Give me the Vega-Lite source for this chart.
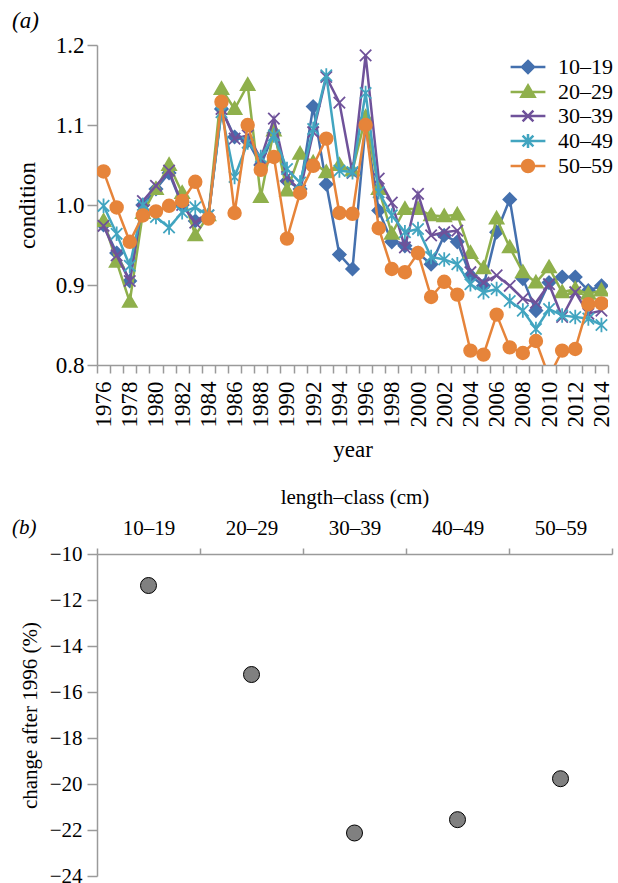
{
  "$schema": "https://vega.github.io/schema/vega-lite/v6.json",
  "background": "white",
  "padding": {"left": 12, "top": 10, "right": 0, "bottom": 0},
  "config": {
    "view": {"stroke": null},
    "font": "'Liberation Serif', 'DejaVu Serif', serif",
    "axis": {"labelFont": "'Liberation Serif', 'DejaVu Serif', serif", "titleFont": "'Liberation Serif', 'DejaVu Serif', serif", "labelColor": "#000000", "titleColor": "#000000", "titleFontWeight": "normal", "domainColor": "#9a9a9a", "tickColor": "#9a9a9a", "domainWidth": 1.5, "tickWidth": 1.5, "grid": false},
    "legend": {"labelFont": "'Liberation Serif', 'DejaVu Serif', serif"},
    "title": {"font": "'Liberation Serif', 'DejaVu Serif', serif", "fontWeight": "normal", "fontStyle": "italic", "anchor": "start", "frame": "bounds", "color": "#000000"}
  },
  "datasets": {
    "cond": [
      {"year":1976,"series":"10–19","value":0.975},{"year":1977,"series":"10–19","value":0.94},{"year":1978,"series":"10–19","value":0.905},{"year":1979,"series":"10–19","value":1.0},{"year":1980,"series":"10–19","value":1.02},{"year":1981,"series":"10–19","value":1.04},{"year":1982,"series":"10–19","value":1.0},{"year":1983,"series":"10–19","value":0.98},{"year":1984,"series":"10–19","value":0.985},{"year":1985,"series":"10–19","value":1.12},{"year":1986,"series":"10–19","value":1.085},{"year":1987,"series":"10–19","value":1.08},{"year":1988,"series":"10–19","value":1.05},{"year":1989,"series":"10–19","value":1.09},{"year":1990,"series":"10–19","value":1.03},{"year":1991,"series":"10–19","value":1.02},{"year":1992,"series":"10–19","value":1.123},{"year":1993,"series":"10–19","value":1.026},{"year":1994,"series":"10–19","value":0.938},{"year":1995,"series":"10–19","value":0.92},{"year":1996,"series":"10–19","value":1.1},{"year":1997,"series":"10–19","value":0.993},{"year":1998,"series":"10–19","value":0.954},{"year":1999,"series":"10–19","value":0.949},{"year":2000,"series":"10–19","value":0.94},{"year":2001,"series":"10–19","value":0.926},{"year":2002,"series":"10–19","value":0.962},{"year":2003,"series":"10–19","value":0.954},{"year":2004,"series":"10–19","value":0.912},{"year":2005,"series":"10–19","value":0.899},{"year":2006,"series":"10–19","value":0.966},{"year":2007,"series":"10–19","value":1.007},{"year":2008,"series":"10–19","value":0.908},{"year":2009,"series":"10–19","value":0.868},{"year":2010,"series":"10–19","value":0.903},{"year":2011,"series":"10–19","value":0.91},{"year":2012,"series":"10–19","value":0.91},{"year":2013,"series":"10–19","value":0.893},{"year":2014,"series":"10–19","value":0.899},
      {"year":1976,"series":"20–29","value":0.98},{"year":1977,"series":"20–29","value":0.929},{"year":1978,"series":"20–29","value":0.879},{"year":1979,"series":"20–29","value":0.99},{"year":1980,"series":"20–29","value":1.02},{"year":1981,"series":"20–29","value":1.05},{"year":1982,"series":"20–29","value":1.015},{"year":1983,"series":"20–29","value":0.962},{"year":1984,"series":"20–29","value":0.987},{"year":1985,"series":"20–29","value":1.145},{"year":1986,"series":"20–29","value":1.12},{"year":1987,"series":"20–29","value":1.15},{"year":1988,"series":"20–29","value":1.01},{"year":1989,"series":"20–29","value":1.093},{"year":1990,"series":"20–29","value":1.018},{"year":1991,"series":"20–29","value":1.064},{"year":1992,"series":"20–29","value":1.053},{"year":1993,"series":"20–29","value":1.041},{"year":1994,"series":"20–29","value":1.05},{"year":1995,"series":"20–29","value":1.043},{"year":1996,"series":"20–29","value":1.11},{"year":1997,"series":"20–29","value":1.02},{"year":1998,"series":"20–29","value":0.964},{"year":1999,"series":"20–29","value":0.995},{"year":2000,"series":"20–29","value":0.995},{"year":2001,"series":"20–29","value":0.987},{"year":2002,"series":"20–29","value":0.986},{"year":2003,"series":"20–29","value":0.988},{"year":2004,"series":"20–29","value":0.94},{"year":2005,"series":"20–29","value":0.921},{"year":2006,"series":"20–29","value":0.983},{"year":2007,"series":"20–29","value":0.947},{"year":2008,"series":"20–29","value":0.916},{"year":2009,"series":"20–29","value":0.903},{"year":2010,"series":"20–29","value":0.922},{"year":2011,"series":"20–29","value":0.891},{"year":2012,"series":"20–29","value":0.895},{"year":2013,"series":"20–29","value":0.889},{"year":2014,"series":"20–29","value":0.893},
      {"year":1976,"series":"30–39","value":0.974},{"year":1977,"series":"30–39","value":0.937},{"year":1978,"series":"30–39","value":0.905},{"year":1979,"series":"30–39","value":1.005},{"year":1980,"series":"30–39","value":1.024},{"year":1981,"series":"30–39","value":1.043},{"year":1982,"series":"30–39","value":1.0},{"year":1983,"series":"30–39","value":0.978},{"year":1984,"series":"30–39","value":0.987},{"year":1985,"series":"30–39","value":1.12},{"year":1986,"series":"30–39","value":1.083},{"year":1987,"series":"30–39","value":1.087},{"year":1988,"series":"30–39","value":1.058},{"year":1989,"series":"30–39","value":1.108},{"year":1990,"series":"30–39","value":1.035},{"year":1991,"series":"30–39","value":1.018},{"year":1992,"series":"30–39","value":1.091},{"year":1993,"series":"30–39","value":1.16},{"year":1994,"series":"30–39","value":1.128},{"year":1995,"series":"30–39","value":1.04},{"year":1996,"series":"30–39","value":1.187},{"year":1997,"series":"30–39","value":1.033},{"year":1998,"series":"30–39","value":1.003},{"year":1999,"series":"30–39","value":0.947},{"year":2000,"series":"30–39","value":1.014},{"year":2001,"series":"30–39","value":0.962},{"year":2002,"series":"30–39","value":0.966},{"year":2003,"series":"30–39","value":0.968},{"year":2004,"series":"30–39","value":0.916},{"year":2005,"series":"30–39","value":0.903},{"year":2006,"series":"30–39","value":0.912},{"year":2007,"series":"30–39","value":0.899},{"year":2008,"series":"30–39","value":0.883},{"year":2009,"series":"30–39","value":0.878},{"year":2010,"series":"30–39","value":0.901},{"year":2011,"series":"30–39","value":0.86},{"year":2012,"series":"30–39","value":0.891},{"year":2013,"series":"30–39","value":0.864},{"year":2014,"series":"30–39","value":0.868},
      {"year":1976,"series":"40–49","value":0.999},{"year":1977,"series":"40–49","value":0.964},{"year":1978,"series":"40–49","value":0.924},{"year":1979,"series":"40–49","value":1.0},{"year":1980,"series":"40–49","value":0.985},{"year":1981,"series":"40–49","value":0.972},{"year":1982,"series":"40–49","value":0.991},{"year":1983,"series":"40–49","value":0.997},{"year":1984,"series":"40–49","value":0.987},{"year":1985,"series":"40–49","value":1.116},{"year":1986,"series":"40–49","value":1.035},{"year":1987,"series":"40–49","value":1.078},{"year":1988,"series":"40–49","value":1.06},{"year":1989,"series":"40–49","value":1.087},{"year":1990,"series":"40–49","value":1.045},{"year":1991,"series":"40–49","value":1.028},{"year":1992,"series":"40–49","value":1.095},{"year":1993,"series":"40–49","value":1.162},{"year":1994,"series":"40–49","value":1.043},{"year":1995,"series":"40–49","value":1.041},{"year":1996,"series":"40–49","value":1.14},{"year":1997,"series":"40–49","value":1.016},{"year":1998,"series":"40–49","value":0.987},{"year":1999,"series":"40–49","value":0.966},{"year":2000,"series":"40–49","value":0.97},{"year":2001,"series":"40–49","value":0.935},{"year":2002,"series":"40–49","value":0.932},{"year":2003,"series":"40–49","value":0.926},{"year":2004,"series":"40–49","value":0.901},{"year":2005,"series":"40–49","value":0.891},{"year":2006,"series":"40–49","value":0.895},{"year":2007,"series":"40–49","value":0.88},{"year":2008,"series":"40–49","value":0.868},{"year":2009,"series":"40–49","value":0.845},{"year":2010,"series":"40–49","value":0.87},{"year":2011,"series":"40–49","value":0.862},{"year":2012,"series":"40–49","value":0.86},{"year":2013,"series":"40–49","value":0.858},{"year":2014,"series":"40–49","value":0.85},
      {"year":1976,"series":"50–59","value":1.042},{"year":1977,"series":"50–59","value":0.997},{"year":1978,"series":"50–59","value":0.954},{"year":1979,"series":"50–59","value":0.987},{"year":1980,"series":"50–59","value":0.992},{"year":1981,"series":"50–59","value":0.999},{"year":1982,"series":"50–59","value":1.005},{"year":1983,"series":"50–59","value":1.029},{"year":1984,"series":"50–59","value":0.983},{"year":1985,"series":"50–59","value":1.129},{"year":1986,"series":"50–59","value":0.99},{"year":1987,"series":"50–59","value":1.1},{"year":1988,"series":"50–59","value":1.044},{"year":1989,"series":"50–59","value":1.06},{"year":1990,"series":"50–59","value":0.958},{"year":1991,"series":"50–59","value":1.015},{"year":1992,"series":"50–59","value":1.049},{"year":1993,"series":"50–59","value":1.083},{"year":1994,"series":"50–59","value":0.99},{"year":1995,"series":"50–59","value":0.989},{"year":1996,"series":"50–59","value":1.1},{"year":1997,"series":"50–59","value":0.971},{"year":1998,"series":"50–59","value":0.92},{"year":1999,"series":"50–59","value":0.916},{"year":2000,"series":"50–59","value":0.94},{"year":2001,"series":"50–59","value":0.885},{"year":2002,"series":"50–59","value":0.904},{"year":2003,"series":"50–59","value":0.888},{"year":2004,"series":"50–59","value":0.818},{"year":2005,"series":"50–59","value":0.813},{"year":2006,"series":"50–59","value":0.863},{"year":2007,"series":"50–59","value":0.822},{"year":2008,"series":"50–59","value":0.815},{"year":2009,"series":"50–59","value":0.83},{"year":2010,"series":"50–59","value":0.785},{"year":2011,"series":"50–59","value":0.818},{"year":2012,"series":"50–59","value":0.82},{"year":2013,"series":"50–59","value":0.876},{"year":2014,"series":"50–59","value":0.877}
    ],
    "chg": [
      {"cls":"10–19","change":-11.37},
      {"cls":"20–29","change":-15.24},
      {"cls":"30–39","change":-22.13},
      {"cls":"40–49","change":-21.55},
      {"cls":"50–59","change":-19.77}
    ]
  },
  "vconcat": [
    {
      "title": {"text": "(a)", "dx": -4, "offset": 1, "fontSize": 23},
      "width": 511,
      "height": 320,
      "data": {"name": "cond"},
      "encoding": {
        "x": {"field": "year", "type": "ordinal", "scale": {"type": "band", "paddingInner": 0, "paddingOuter": 0},
          "axis": {"title": "year", "labelAngle": -90, "tickBand": "extent", "tickSize": 8, "labelPadding": 8, "titlePadding": 11, "labelFontSize": 23, "titleFontSize": 23, "labelExpr": "datum.value % 2 == 0 ? datum.label : ''"}},
        "y": {"field": "value", "type": "quantitative", "scale": {"domain": [0.8, 1.2], "zero": false, "nice": false},
          "axis": {"title": "condition", "values": [0.8, 0.9, 1.0, 1.1, 1.2], "format": ".1f", "tickSize": 10, "labelPadding": 3, "labelFontSize": 23, "titleFontSize": 23, "minExtent": 42, "maxExtent": 42, "titlePadding": 16}}
      },
      "layer": [
        {"transform": [{"filter": "datum.series === '10–19'"}], "mark": {"type": "line", "strokeWidth": 2.5, "color": "#4470AE", "clip": true}},
        {"transform": [{"filter": "datum.series === '10–19'"}], "mark": {"type": "point", "shape": "M0,-1L1,0L0,1L-1,0Z", "size": 160, "filled": true, "fill": "#4470AE", "stroke": "#4470AE", "strokeWidth": 1.8, "opacity": 1, "clip": true}},
        {"transform": [{"filter": "datum.series === '20–29'"}], "mark": {"type": "line", "strokeWidth": 2.5, "color": "#8FB04C", "clip": true}},
        {"transform": [{"filter": "datum.series === '20–29'"}], "mark": {"type": "point", "shape": "M0,-1.1L1.1,0.8L-1.1,0.8Z", "size": 160, "filled": true, "fill": "#8FB04C", "stroke": "#8FB04C", "strokeWidth": 1.8, "opacity": 1, "clip": true}},
        {"transform": [{"filter": "datum.series === '30–39'"}], "mark": {"type": "line", "strokeWidth": 2.5, "color": "#6F529A", "clip": true}},
        {"transform": [{"filter": "datum.series === '30–39'"}], "mark": {"type": "point", "shape": "M-0.9,-0.9L0.9,0.9M-0.9,0.9L0.9,-0.9", "size": 160, "filled": true, "fill": "#6F529A", "stroke": "#6F529A", "strokeWidth": 1.8, "opacity": 1, "clip": true}},
        {"transform": [{"filter": "datum.series === '40–49'"}], "mark": {"type": "line", "strokeWidth": 2.5, "color": "#42A5C0", "clip": true}},
        {"transform": [{"filter": "datum.series === '40–49'"}], "mark": {"type": "point", "shape": "M-0.9,-0.9L0.9,0.9M-0.9,0.9L0.9,-0.9M0,-1.15L0,1.15", "size": 160, "filled": true, "fill": "#42A5C0", "stroke": "#42A5C0", "strokeWidth": 1.8, "opacity": 1, "clip": true}},
        {"transform": [{"filter": "datum.series === '50–59'"}], "mark": {"type": "line", "strokeWidth": 2.5, "color": "#E6843A", "clip": true}},
        {"transform": [{"filter": "datum.series === '50–59'"}], "mark": {"type": "point", "shape": "M1,0A1,1,0,1,1,-1,0A1,1,0,1,1,1,0Z", "size": 160, "filled": true, "fill": "#E6843A", "stroke": "#E6843A", "strokeWidth": 1.8, "opacity": 1, "clip": true}},
        {
          "mark": {"type": "point", "filled": true, "size": 144, "strokeWidth": 2.5, "opacity": 0, "clip": true},
          "encoding": {
            "fill": {"field": "series", "type": "nominal", "scale": {"domain": ["10–19","20–29","30–39","40–49","50–59"], "range": ["#4470AE","#8FB04C","#6F529A","#42A5C0","#E6843A"]},
              "legend": {"title": null, "orient": "none", "legendX": 420, "legendY": 11, "symbolSize": 144, "symbolStrokeWidth": 2.5, "symbolOpacity": 1, "labelOffset": 19, "labelFontSize": 22, "labelColor": "#000000", "rowPadding": 2, "padding": 0}},
            "stroke": {"field": "series", "type": "nominal", "scale": {"domain": ["10–19","20–29","30–39","40–49","50–59"], "range": ["#4470AE","#8FB04C","#6F529A","#42A5C0","#E6843A"]},
              "legend": {"title": null, "orient": "none", "legendX": 420, "legendY": 11, "symbolSize": 144, "symbolStrokeWidth": 2.5, "symbolOpacity": 1, "labelOffset": 19, "labelFontSize": 22, "labelColor": "#000000", "rowPadding": 2, "padding": 0}},
            "shape": {"field": "series", "type": "nominal",
              "scale": {"domain": ["10–19","20–29","30–39","40–49","50–59"], "range": ["M-2.9,0L2.9,0M0,-1L1,0L0,1L-1,0Z","M-2.9,0L2.9,0M0,-1.1L1.1,0.8L-1.1,0.8Z","M-2.9,0L2.9,0M-0.9,-0.9L0.9,0.9M-0.9,0.9L0.9,-0.9","M-2.9,0L2.9,0M-0.9,-0.9L0.9,0.9M-0.9,0.9L0.9,-0.9M0,-1.15L0,1.15","M-2.9,0L2.9,0M1,0A1,1,0,1,1,-1,0A1,1,0,1,1,1,0Z"]},
              "legend": {"title": null, "orient": "none", "legendX": 420, "legendY": 11, "symbolSize": 144, "symbolStrokeWidth": 2.5, "symbolOpacity": 1, "labelOffset": 19, "labelFontSize": 22, "labelColor": "#000000", "rowPadding": 2, "padding": 0}
            }
          }
        }
      ]
    },
    {
      "title": {"text": "(b)", "dx": -7, "dy": 56, "fontSize": 21},
      "width": 515,
      "height": 322,
      "data": {"name": "chg"},
      "mark": {"type": "point", "shape": "circle", "filled": true, "size": 256, "fill": "#808080", "stroke": "#000000", "strokeWidth": 1, "opacity": 1},
      "encoding": {
        "x": {"field": "cls", "type": "nominal", "sort": null, "scale": {"type": "band", "paddingInner": 0, "paddingOuter": 0},
          "axis": {"orient": "top", "title": "length–class (cm)", "labelAngle": 0, "tickBand": "extent", "tickSize": 6, "labelPadding": 10, "titlePadding": 10, "labelFontSize": 21, "titleFontSize": 21}},
        "y": {"field": "change", "type": "quantitative", "scale": {"domain": [-24, -10], "zero": false, "nice": false},
          "axis": {"title": "change after 1996 (%)", "values": [-24, -22, -20, -18, -16, -14, -12, -10], "tickSize": 10, "labelPadding": 5, "labelFontSize": 21, "titleFontSize": 21, "minExtent": 48, "maxExtent": 48, "titlePadding": 9}}
      }
    }
  ],
  "spacing": 24
}
